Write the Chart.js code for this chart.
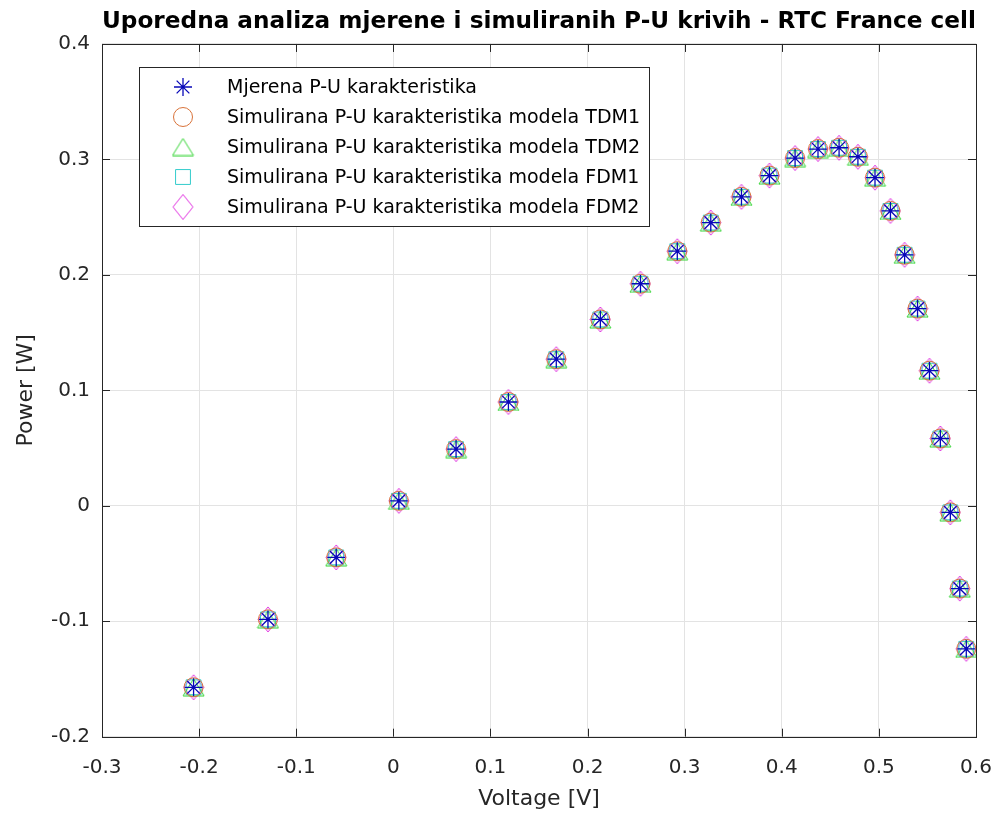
<!DOCTYPE html>
<html>
<head>
<meta charset="utf-8">
<script src="https://cdn.jsdelivr.net/npm/chart.js@4.4.1/dist/chart.umd.min.js"></script>
<style>
    html, body { margin: 0; padding: 0; background: #fff; }
    #wrap { width: 998px; height: 816px; }
</style>
</head>
<body>
<div id="wrap"><canvas id="puChart" width="998" height="816"></canvas></div>
<script>
// Napon [V] i snaga [W] ocitani sa slike
const voltage = [-0.2057, -0.1291, -0.0588, 0.0057, 0.0646, 0.1185, 0.1678, 0.2132, 0.2545, 0.2924,
    0.3269, 0.3585, 0.3873, 0.4137, 0.4373, 0.4590, 0.4784, 0.4960, 0.5119, 0.5265,
    0.5398, 0.5521, 0.5633, 0.5736, 0.5833, 0.5900];

const powerMeasured = [-0.1572, -0.0984, -0.0447, 0.0043, 0.0491, 0.0899, 0.1270, 0.1614, 0.1923, 0.2205,
    0.2453, 0.2676, 0.2860, 0.3012, 0.3090, 0.3101, 0.3023, 0.2842, 0.2554, 0.2174,
    0.1708, 0.1170, 0.0583, -0.0057, -0.0717, -0.1239];

// simulirane krive se na slici poklapaju s mjerenom
const powerTDM1 = [-0.1572, -0.0984, -0.0447, 0.0043, 0.0491, 0.0899, 0.1270, 0.1614, 0.1923, 0.2205,
    0.2453, 0.2676, 0.2860, 0.3012, 0.3090, 0.3101, 0.3023, 0.2842, 0.2554, 0.2174,
    0.1708, 0.1170, 0.0583, -0.0057, -0.0717, -0.1239];
const powerTDM2 = [-0.1572, -0.0984, -0.0447, 0.0043, 0.0491, 0.0899, 0.1270, 0.1614, 0.1923, 0.2205,
    0.2453, 0.2676, 0.2860, 0.3012, 0.3090, 0.3101, 0.3023, 0.2842, 0.2554, 0.2174,
    0.1708, 0.1170, 0.0583, -0.0057, -0.0717, -0.1239];
const powerFDM1 = [-0.1572, -0.0984, -0.0447, 0.0043, 0.0491, 0.0899, 0.1270, 0.1614, 0.1923, 0.2205,
    0.2453, 0.2676, 0.2860, 0.3012, 0.3090, 0.3101, 0.3023, 0.2842, 0.2554, 0.2174,
    0.1708, 0.1170, 0.0583, -0.0057, -0.0717, -0.1239];
const powerFDM2 = [-0.1572, -0.0984, -0.0447, 0.0043, 0.0491, 0.0899, 0.1270, 0.1614, 0.1923, 0.2205,
    0.2453, 0.2676, 0.2860, 0.3012, 0.3090, 0.3101, 0.3023, 0.2842, 0.2554, 0.2174,
    0.1708, 0.1170, 0.0583, -0.0057, -0.0717, -0.1239];

const seriesLabels = [
    "Mjerena P-U karakteristika",
    "Simulirana P-U karakteristika modela TDM1",
    "Simulirana P-U karakteristika modela TDM2",
    "Simulirana P-U karakteristika modela FDM1",
    "Simulirana P-U karakteristika modela FDM2",
];

const xTickValues = [-0.3, -0.2, -0.1, 0, 0.1, 0.2, 0.3, 0.4, 0.5, 0.6];
const xTickLabels = ["-0.3", "-0.2", "-0.1", "0", "0.1", "0.2", "0.3", "0.4", "0.5", "0.6"];
const yTickValues = [-0.2, -0.1, 0, 0.1, 0.2, 0.3, 0.4];
const yTickLabels = ["-0.2", "-0.1", "0", "0.1", "0.2", "0.3", "0.4"];

const FONT = "'DejaVu Sans', 'Liberation Sans', Arial, sans-serif";
const AXIS_COLOR = "#262626";

function toPoints(xs, ys) {
    return xs.map((x, i) => ({ x: x, y: ys[i] }));
}

// markeri kao male slike (trougao i romb kao u MATLAB-u)
function markerCanvas(w, h, color, pathFn) {
    const c = document.createElement("canvas");
    c.width = w + 2;
    c.height = h + 2;
    const g = c.getContext("2d");
    g.strokeStyle = color;
    g.lineWidth = 1;
    g.beginPath();
    pathFn(g, w, h);
    g.closePath();
    g.stroke();
    return c;
}

const triangleMarker = markerCanvas(21, 17, "#33D433", (g, w, h) => {
    g.moveTo(1 + w / 2, 1);
    g.lineTo(1 + w, 1 + h);
    g.lineTo(1, 1 + h);
});

const diamondMarker = markerCanvas(20, 25, "#E033E0", (g, w, h) => {
    g.moveTo(1 + w / 2, 1);
    g.lineTo(1 + w, 1 + h / 2);
    g.lineTo(1 + w / 2, 1 + h);
    g.lineTo(1, 1 + h / 2);
});

function makeDataset(label, ys, style, color, radius, width) {
    return {
        label: label,
        data: toPoints(voltage, ys),
        showLine: false,
        pointStyle: style,
        pointRadius: radius,
        pointHoverRadius: radius,
        pointBorderColor: color,
        pointBackgroundColor: "rgba(0,0,0,0)",
        pointBorderWidth: width || 1,
    };
}

const datasets = [
    makeDataset(seriesLabels[0], powerMeasured, "star", "#0808B8", 9, 1.3),
    makeDataset(seriesLabels[1], powerTDM1, "circle", "#D9733A", 9.5),
    makeDataset(seriesLabels[2], powerTDM2, triangleMarker, "#33D433", 11),
    makeDataset(seriesLabels[3], powerFDM1, "rect", "#33CCCC", 10.5),
    makeDataset(seriesLabels[4], powerFDM2, diamondMarker, "#E033E0", 12),
];

// okvir oko grafika i kratke crtice prema unutra (MATLAB stil)
const boxPlugin = {
    id: "boxPlugin",
    afterDatasetsDraw(chart) {
        const { ctx, chartArea: a, scales } = chart;
        const tick = 8;
        ctx.save();
        ctx.strokeStyle = AXIS_COLOR;
        ctx.lineWidth = 1;
        ctx.beginPath();
        xTickValues.forEach((v) => {
            const px = Math.round(scales.x.getPixelForValue(v)) + 0.5;
            ctx.moveTo(px, a.bottom);
            ctx.lineTo(px, a.bottom - tick);
            ctx.moveTo(px, a.top);
            ctx.lineTo(px, a.top + tick);
        });
        yTickValues.forEach((v) => {
            const py = Math.round(scales.y.getPixelForValue(v)) + 0.5;
            ctx.moveTo(a.left, py);
            ctx.lineTo(a.left + tick, py);
            ctx.moveTo(a.right, py);
            ctx.lineTo(a.right - tick, py);
        });
        ctx.stroke();
        ctx.strokeRect(Math.round(a.left) + 0.5, Math.round(a.top) + 0.5,
            Math.round(a.right - a.left), Math.round(a.bottom - a.top));
        ctx.restore();
    },
};

// legenda unutar grafika, gore lijevo
const insideLegend = {
    id: "insideLegend",
    afterDraw(chart) {
        const { ctx } = chart;
        const box = { left: 139.5, top: 67.5, width: 510, height: 159 };
        const rowStart = 87;
        const rowGap = 30;
        ctx.save();
        ctx.fillStyle = "#fff";
        ctx.fillRect(box.left, box.top, box.width, box.height);
        ctx.strokeStyle = AXIS_COLOR;
        ctx.lineWidth = 1;
        ctx.strokeRect(box.left, box.top, box.width, box.height);

        chart.data.datasets.forEach((ds, i) => {
            const y = rowStart + i * rowGap;
            ctx.strokeStyle = ds.pointBorderColor;
            ctx.fillStyle = "rgba(0,0,0,0)";
            ctx.lineWidth = ds.pointBorderWidth;
            Chart.helpers.drawPoint(ctx, {
                pointStyle: ds.pointStyle,
                radius: ds.pointRadius,
                rotation: 0,
                borderWidth: ds.pointBorderWidth,
            }, 183, y);

            ctx.fillStyle = "#000";
            ctx.font = "19px " + FONT;
            ctx.textBaseline = "middle";
            ctx.textAlign = "left";
            ctx.fillText(ds.label, 227, y + 1);
        });
        ctx.restore();
    },
};

const ctx = document.getElementById("puChart").getContext("2d");
const puChart = new Chart(ctx, {
    type: "scatter",
    data: { datasets: datasets },
    options: {
        responsive: false,
        animation: false,
        layout: { padding: { left: 0, right: 22, top: 0, bottom: 0 } },
        plugins: {
            legend: { display: false },
            tooltip: { enabled: false },
            title: {
                display: true,
                fullSize: false,
                text: "Uporedna analiza mjerene i simuliranih P-U krivih - RTC France cell",
                color: "#000",
                font: { family: FONT, size: 23.3, weight: "bold" },
                padding: { top: 8, bottom: 8 },
            },
        },
        scales: {
            x: {
                type: "linear",
                min: -0.3,
                max: 0.6,
                afterBuildTicks: (scale) => {
                    scale.ticks = xTickValues.map((v) => ({ value: v }));
                },
                afterFit: (scale) => {
                    scale.height = 79.3;
                    scale.paddingLeft = 0;
                    scale.paddingRight = 0;
                },
                ticks: {
                    color: AXIS_COLOR,
                    padding: 19,
                    maxRotation: 0,
                    font: { family: FONT, size: 20 },
                    callback: (value) => xTickLabels[xTickValues.findIndex((v) => Math.abs(v - value) < 1e-9)],
                },
                grid: { color: "#E3E3E3", drawTicks: false },
                border: { display: false },
                title: {
                    display: true,
                    text: "Voltage [V]",
                    color: AXIS_COLOR,
                    font: { family: FONT, size: 22 },
                    padding: { top: 4, bottom: 4 },
                },
            },
            y: {
                type: "linear",
                min: -0.2,
                max: 0.4,
                afterBuildTicks: (scale) => {
                    scale.ticks = yTickValues.map((v) => ({ value: v }));
                },
                afterFit: (scale) => {
                    scale.width = 102;
                    scale.paddingTop = 0;
                    scale.paddingBottom = 0;
                },
                ticks: {
                    color: AXIS_COLOR,
                    padding: 12,
                    font: { family: FONT, size: 20 },
                    callback: (value) => yTickLabels[yTickValues.findIndex((v) => Math.abs(v - value) < 1e-9)],
                },
                grid: { color: "#E3E3E3", drawTicks: false },
                border: { display: false },
                title: {
                    display: true,
                    text: "Power [W]",
                    color: AXIS_COLOR,
                    font: { family: FONT, size: 22 },
                    padding: { top: 13, bottom: 13 },
                },
            },
        },
    },
    plugins: [boxPlugin, insideLegend],
});
</script>
</body>
</html>
